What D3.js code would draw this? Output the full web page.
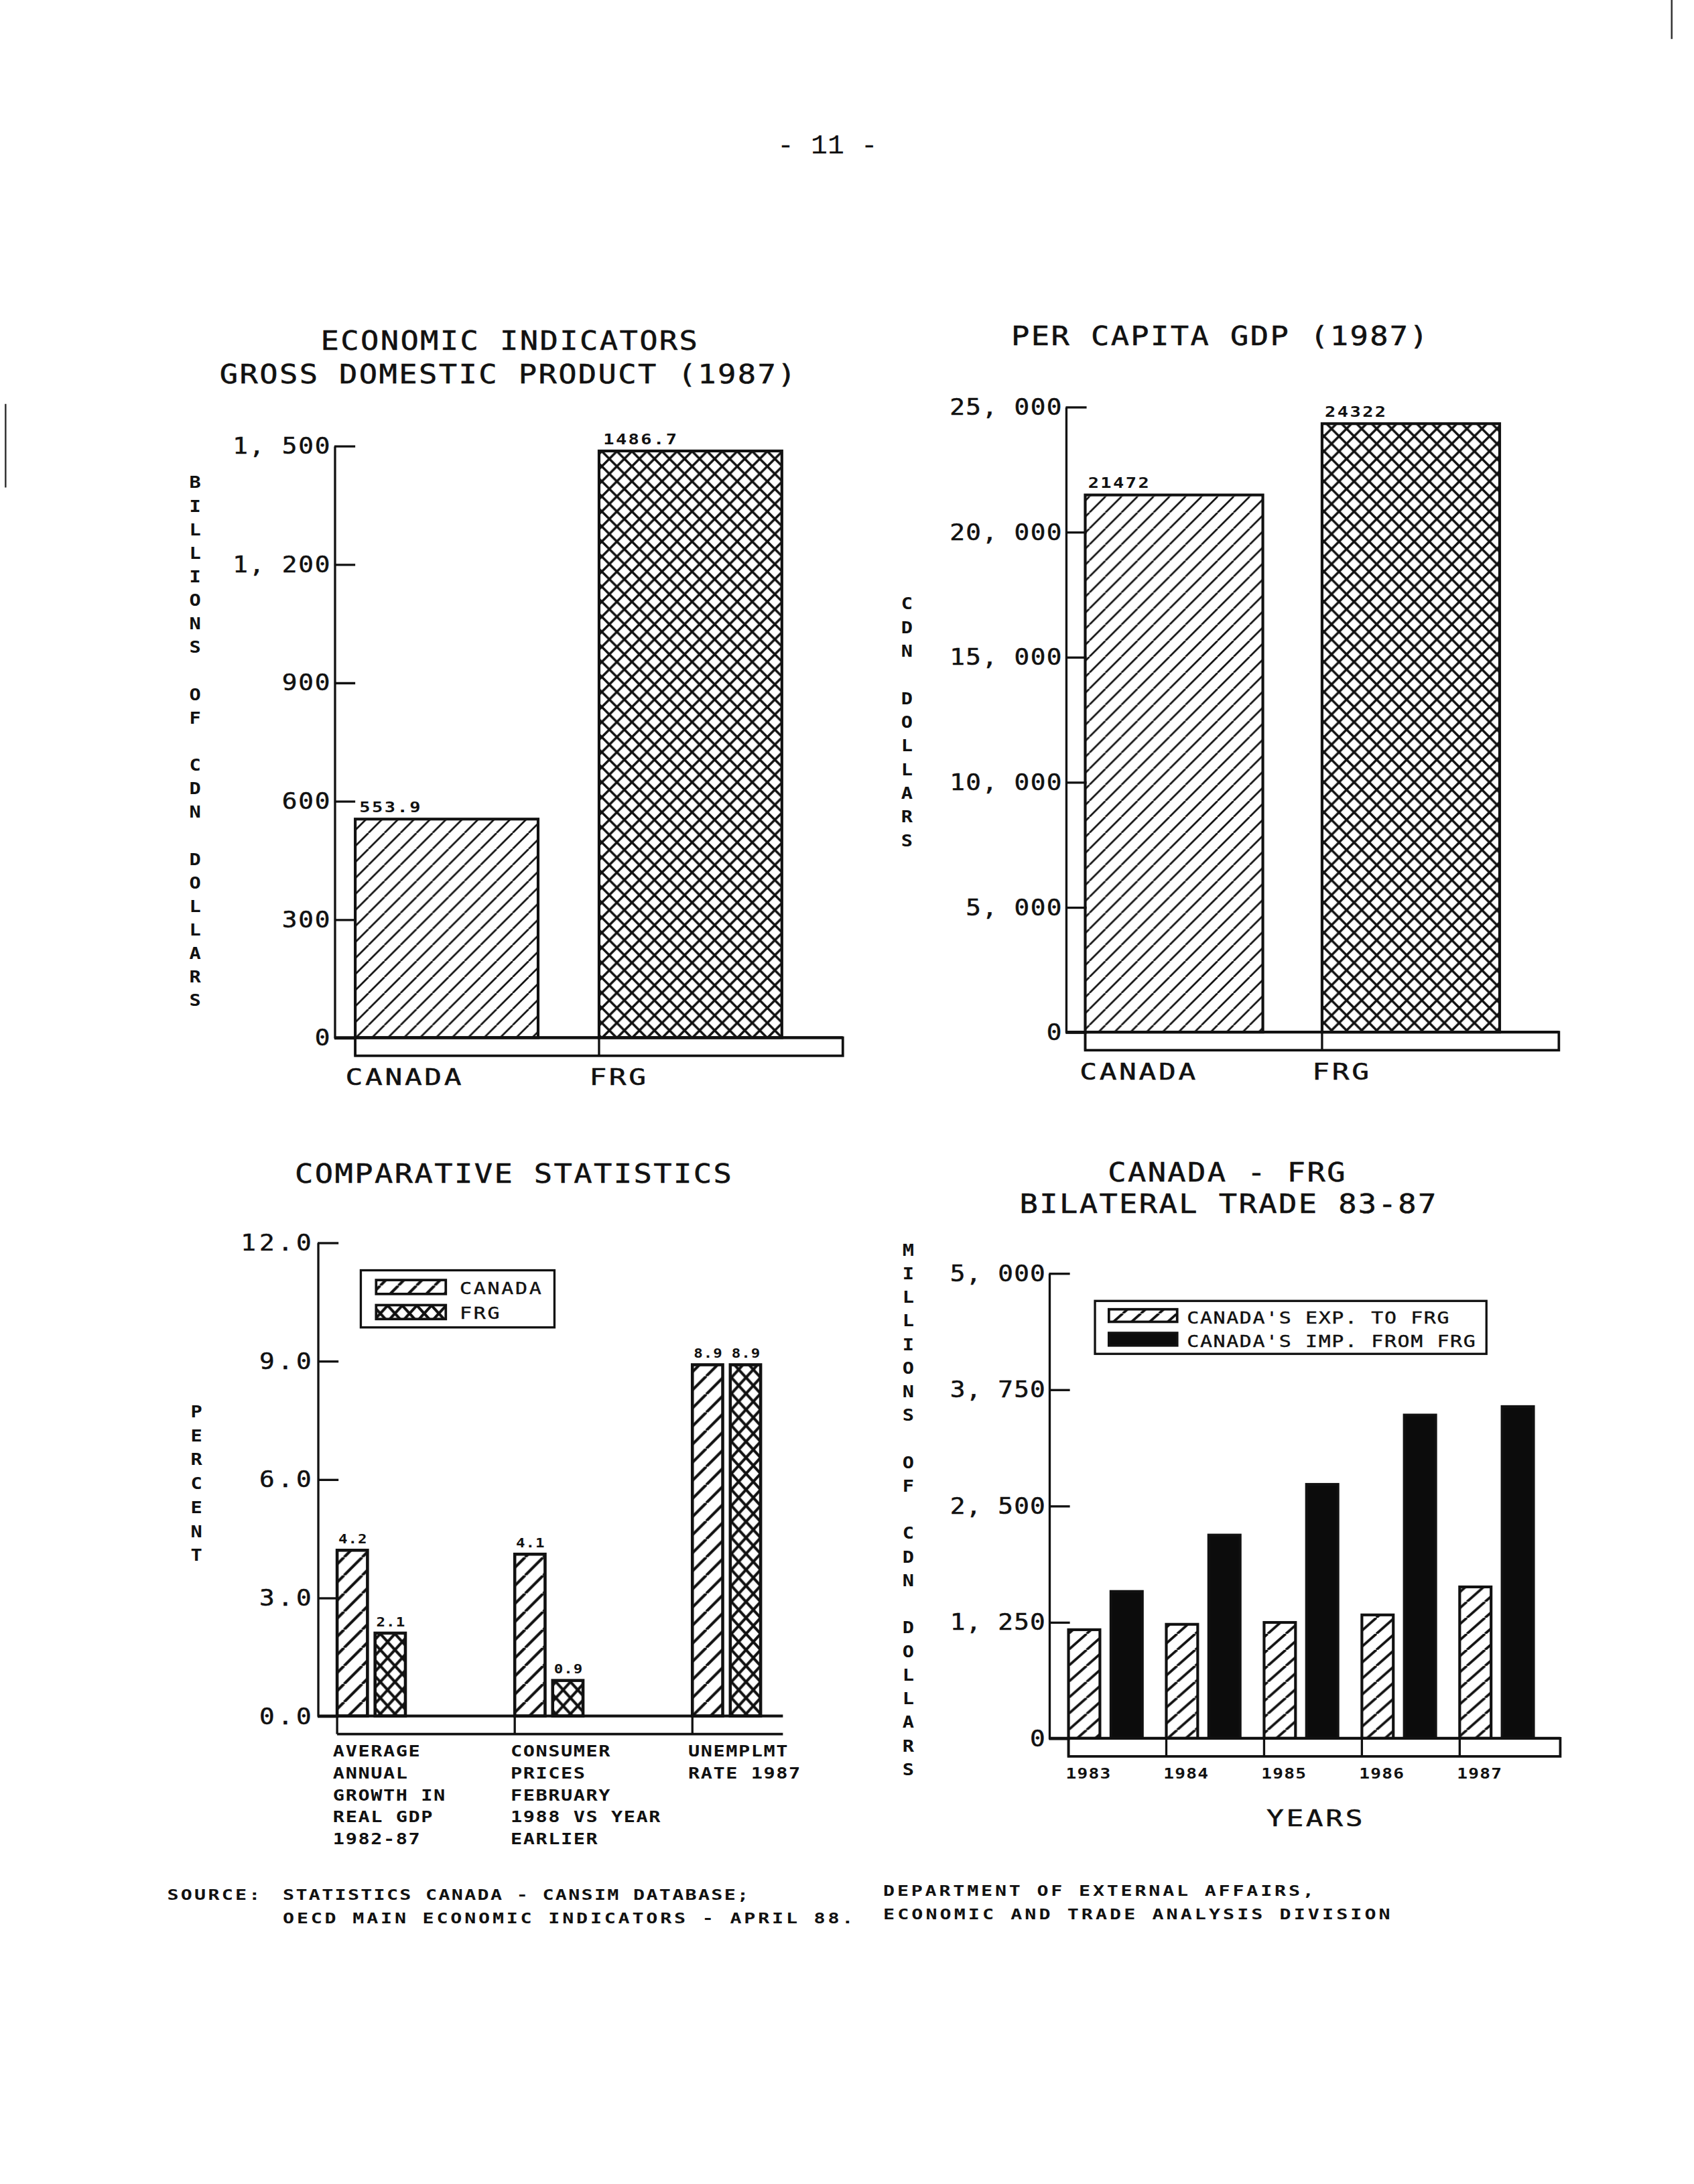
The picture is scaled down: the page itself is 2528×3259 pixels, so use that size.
<!DOCTYPE html>
<html><head><meta charset="utf-8">
<script src="https://cdn.jsdelivr.net/npm/d3@7"></script>
<style>
html,body{margin:0;padding:0;background:#fff;}
svg{display:block;}
</style></head><body>
<svg id="page" width="2528" height="3259" viewBox="0 0 1216 1568" preserveAspectRatio="none"></svg>
<script>
// ---------------- DATA ----------------
const gdpCategories = ["CANADA", "FRG"];
const gdpValues = [553.9, 1486.7];
const gdpValueLabels = ["553.9", "1486.7"];
const gdpTicks = [0, 300, 600, 900, 1200, 1500];

const pcCategories = ["CANADA", "FRG"];
const pcValues = [21472, 24322];
const pcValueLabels = ["21472", "24322"];
const pcTicks = [0, 5000, 10000, 15000, 20000, 25000];

const compCategories = ["GDP", "CPI", "UNEMP"];
const compCategoryLines = [
  ["AVERAGE", "ANNUAL", "GROWTH IN", "REAL GDP", "1982-87"],
  ["CONSUMER", "PRICES", "FEBRUARY", "1988 VS YEAR", "EARLIER"],
  ["UNEMPLMT", "RATE 1987"]
];
const compSeries = ["CANADA", "FRG"];
const compCanada = [4.2, 4.1, 8.9];
const compFRG = [2.1, 0.9, 8.9];
const compTicks = [0, 3, 6, 9, 12];

const tradeYears = ["1983", "1984", "1985", "1986", "1987"];
const tradeSeries = ["CANADA'S EXP. TO FRG", "CANADA'S IMP. FROM FRG"];
const tradeExports = [1167, 1225, 1245, 1326, 1627];
const tradeImports = [1578, 2184, 2729, 3474, 3565];
const tradeTicks = [0, 1250, 2500, 3750, 5000];

// ---------------- SETUP ----------------
const svg = d3.select("#page");
const F = "'DejaVu Sans Mono', 'Liberation Mono', monospace";
const INK = "#111";
svg.append("rect").attr("width", 1216).attr("height", 1568).attr("fill", "#fff");
const defs = svg.append("defs");

function linePattern(id, w, h, sw, dirs) {
  const p = defs.append("pattern").attr("id", id)
    .attr("patternUnits", "userSpaceOnUse").attr("width", w).attr("height", h);
  p.append("rect").attr("width", w).attr("height", h).attr("fill", "#fff");
  let d = "";
  for (const dx of [-w, 0, w]) {
    if (dirs.includes("/")) d += `M${dx},${h} L${dx + w},0 `;
    if (dirs.includes("\\")) d += `M${dx},0 L${dx + w},${h} `;
  }
  p.append("path").attr("d", d).attr("stroke", INK).attr("stroke-width", sw)
    .attr("fill", "none");
}
linePattern("hatchA", 11.5, 11.5, 1.3, "/");
linePattern("crossA", 10.8, 10.8, 1.7, "/\\");
linePattern("hatchB", 13, 13, 2.0, "/");
linePattern("crossB", 10.5, 11.5, 2.0, "/\\");
linePattern("hatchC", 13, 11.5, 1.8, "/");

// text drawn with horizontal stretch to mimic the wide plotter lettering
function text(g, s, x, y, o = {}) {
  const sx = o.sx || 1;
  return g.append("text").attr("x", 0).attr("y", 0)
    .attr("transform", `translate(${x},${y}) scale(${sx},1)`).text(s)
    .attr("font-family", o.family || F)
    .attr("font-size", o.size || 11)
    .attr("font-weight", o.weight || "normal")
    .attr("letter-spacing", o.ls || 0)
    .attr("text-anchor", o.anchor || "start")
    .attr("stroke", o.sw ? INK : null)
    .attr("stroke-width", o.sw || null)
    .attr("fill", INK);
}

const TITLE = { size: 19, sx: 1.15, ls: 1.0, anchor: "middle", sw: 0.25 };
const CAT = { size: 16.5, sx: 1.25, ls: 1.4, sw: 0.25 };
const SMALL = { size: 11, weight: "bold", sx: 1.25, ls: 0.6 };
const VAL = { size: 10, weight: "bold", sx: 1.3, ls: 0.9 };

function commaFmt(v) {
  return v === 0 ? "0" : d3.format(",")(v).replace(",", ", ");
}

function drawAxis(g, y, ticks, fmt, x, ls) {
  const a = d3.axisLeft(y).tickValues(ticks).tickSize(-15).tickSizeOuter(0)
    .tickPadding(2).tickFormat(fmt);
  const ag = g.append("g").attr("transform", `translate(${x},0)`).call(a);
  ag.select(".domain").attr("stroke", INK).attr("stroke-width", 1.6);
  ag.selectAll(".tick line").attr("stroke", INK).attr("stroke-width", 1.6);
  ag.selectAll(".tick text").attr("font-family", F).attr("font-size", 16.5)
    .attr("letter-spacing", ls).attr("fill", INK)
    .attr("stroke", INK).attr("stroke-width", 0.25)
    .attr("transform", "scale(1.1,1)");
  return ag;
}

function stackedLabel(g, s, x, yStart, step) {
  s.split("").forEach((c, i) => {
    if (c !== " ") text(g, c, x, yStart + i * step + 4.5, { size: 12, weight: "bold", sx: 1.15, anchor: "middle" });
  });
}

// ---------------- HEADER ----------------
text(svg, "- 11 -", 594, 110, { family: "'Liberation Mono', monospace", size: 20, anchor: "middle" });
svg.append("line").attr("x1", 4).attr("x2", 4).attr("y1", 290).attr("y2", 350).attr("stroke", "#333").attr("stroke-width", 1.2);
svg.append("line").attr("x1", 1200).attr("x2", 1200).attr("y1", 0).attr("y2", 28).attr("stroke", "#333").attr("stroke-width", 1.2);

// ---------------- CHART 1: GDP ----------------
{
  const g = svg.append("g");
  text(g, "ECONOMIC INDICATORS", 366, 251, TITLE);
  text(g, "GROSS DOMESTIC PRODUCT (1987)", 365, 275, TITLE);
  const x = d3.scaleBand().domain(gdpCategories).range([255, 605]);
  const y = d3.scaleLinear().domain([0, 1500]).range([745, 320]);
  const bw = x.step() * 0.75;
  g.selectAll("rect.bar").data(gdpValues).join("rect").attr("class", "bar")
    .attr("x", (d, i) => x(gdpCategories[i])).attr("width", bw)
    .attr("y", d => y(d)).attr("height", d => y(0) - y(d))
    .attr("fill", (d, i) => i === 0 ? "url(#hatchA)" : "url(#crossA)")
    .attr("stroke", INK).attr("stroke-width", 2);
  gdpValues.forEach((v, i) => text(g, gdpValueLabels[i], x(gdpCategories[i]) + 3, y(v) - 5, VAL));
  drawAxis(g, y, gdpTicks, commaFmt, 240, 0.8);
  const y0 = y(0);
  g.append("line").attr("x1", 240).attr("x2", x.range()[1]).attr("y1", y0).attr("y2", y0).attr("stroke", INK).attr("stroke-width", 2);
  g.append("rect").attr("x", x.range()[0]).attr("y", y0).attr("width", x.range()[1] - x.range()[0]).attr("height", 13)
    .attr("fill", "none").attr("stroke", INK).attr("stroke-width", 1.8);
  gdpCategories.forEach(c => {
    g.append("line").attr("x1", x(c)).attr("x2", x(c)).attr("y1", y0).attr("y2", y0 + 13).attr("stroke", INK).attr("stroke-width", 1.6);
    text(g, c, x(c) - 7, y0 + 34, CAT);
  });
  stackedLabel(g, "BILLIONS OF CDN DOLLARS", 140, 346, 16.9);
}

// ---------------- CHART 2: PER CAPITA ----------------
{
  const g = svg.append("g");
  text(g, "PER CAPITA GDP (1987)", 876, 248, TITLE);
  const x = d3.scaleBand().domain(pcCategories).range([779, 1119]);
  const y = d3.scaleLinear().domain([0, 25000]).range([741, 292]);
  const bw = x.step() * 0.75;
  g.selectAll("rect.bar").data(pcValues).join("rect").attr("class", "bar")
    .attr("x", (d, i) => x(pcCategories[i])).attr("width", bw)
    .attr("y", d => y(d)).attr("height", d => y(0) - y(d))
    .attr("fill", (d, i) => i === 0 ? "url(#hatchA)" : "url(#crossA)")
    .attr("stroke", INK).attr("stroke-width", 2);
  pcValues.forEach((v, i) => text(g, pcValueLabels[i], x(pcCategories[i]) + 2, y(v) - 5, VAL));
  drawAxis(g, y, pcTicks, commaFmt, 765, 0.6);
  const y0 = y(0);
  g.append("line").attr("x1", 765).attr("x2", x.range()[1]).attr("y1", y0).attr("y2", y0).attr("stroke", INK).attr("stroke-width", 2);
  g.append("rect").attr("x", x.range()[0]).attr("y", y0).attr("width", x.range()[1] - x.range()[0]).attr("height", 13)
    .attr("fill", "none").attr("stroke", INK).attr("stroke-width", 1.8);
  pcCategories.forEach((c, i) => {
    g.append("line").attr("x1", x(c)).attr("x2", x(c)).attr("y1", y0).attr("y2", y0 + 13).attr("stroke", INK).attr("stroke-width", 1.6);
    text(g, c, x(c) - (i === 0 ? 4 : 7), y0 + 34, CAT);
  });
  stackedLabel(g, "CDN DOLLARS", 651, 433, 17);
}

// ---------------- CHART 3: COMPARATIVE ----------------
{
  const g = svg.append("g");
  text(g, "COMPARATIVE STATISTICS", 369, 849, TITLE);
  const x = d3.scaleBand().domain(compCategories).range([242, 624.5]);
  const xi = d3.scaleBand().domain(compSeries).range([0, 49]).paddingInner(0.2);
  const y = d3.scaleLinear().domain([0, 12]).range([1232, 892]);
  const series = [compCanada, compFRG];
  const fills = ["url(#hatchB)", "url(#crossB)"];
  series.forEach((vals, si) => {
    g.selectAll(`rect.s${si}`).data(vals).join("rect").attr("class", `s${si}`)
      .attr("x", (d, i) => x(compCategories[i]) + xi(compSeries[si])).attr("width", xi.bandwidth())
      .attr("y", d => y(d)).attr("height", d => y(0) - y(d))
      .attr("fill", fills[si]).attr("stroke", INK).attr("stroke-width", 2.2);
    vals.forEach((v, i) => text(g, d3.format(".1f")(v), x(compCategories[i]) + xi(compSeries[si]) + xi.bandwidth() / 2 + 0.5, y(v) - 5,
      { size: 9, weight: "bold", sx: 1.2, ls: 0.4, anchor: "middle" }));
  });
  drawAxis(g, y, compTicks, d3.format(".1f"), 228, 2.1);
  const y0 = y(0);
  const xEnd = 562;
  g.append("line").attr("x1", 228).attr("x2", xEnd).attr("y1", y0).attr("y2", y0).attr("stroke", INK).attr("stroke-width", 2);
  g.append("line").attr("x1", x.range()[0]).attr("x2", xEnd).attr("y1", y0 + 13).attr("y2", y0 + 13).attr("stroke", INK).attr("stroke-width", 1.8);
  compCategories.forEach((c, i) => {
    g.append("line").attr("x1", x(c)).attr("x2", x(c)).attr("y1", y0).attr("y2", y0 + 13).attr("stroke", INK).attr("stroke-width", 1.6);
    compCategoryLines[i].forEach((ln, j) => text(g, ln, x(c) - 3, y0 + 29 + j * 15.8, SMALL));
  });
  // legend
  const lg = g.append("g");
  lg.append("rect").attr("x", 259).attr("y", 912).attr("width", 139).attr("height", 41)
    .attr("fill", "#fff").attr("stroke", INK).attr("stroke-width", 1.6);
  compSeries.forEach((s, i) => {
    lg.append("rect").attr("x", 270).attr("y", 919 + i * 18).attr("width", 50).attr("height", 10)
      .attr("fill", fills[i]).attr("stroke", INK).attr("stroke-width", 1.8);
    text(lg, s, 330, 929 + i * 18, { size: 12, sx: 1.2, ls: 1.1, sw: 0.2 });
  });
  stackedLabel(g, "PERCENT", 141, 1013, 17.2);
}

// ---------------- CHART 4: BILATERAL TRADE ----------------
{
  const g = svg.append("g");
  text(g, "CANADA - FRG", 881, 848, TITLE);
  text(g, "BILATERAL TRADE 83-87", 882, 871, TITLE);
  const x = d3.scaleBand().domain(tradeYears).range([767, 1118]);
  const xi = d3.scaleBand().domain(tradeSeries).range([0, 53]).paddingInner(0.26);
  const y = d3.scaleLinear().domain([0, 5000]).range([1248, 914]);
  const series = [tradeExports, tradeImports];
  const fills = ["url(#hatchC)", "#0c0c0c"];
  series.forEach((vals, si) => {
    g.selectAll(`rect.t${si}`).data(vals).join("rect").attr("class", `t${si}`)
      .attr("x", (d, i) => x(tradeYears[i]) + xi(tradeSeries[si])).attr("width", xi.bandwidth())
      .attr("y", d => y(d)).attr("height", d => y(0) - y(d))
      .attr("fill", fills[si]).attr("stroke", INK).attr("stroke-width", 2);
  });
  drawAxis(g, y, tradeTicks, commaFmt, 753, 0.5);
  const y0 = y(0);
  const xEnd = 1120;
  g.append("line").attr("x1", 753).attr("x2", xEnd).attr("y1", y0).attr("y2", y0).attr("stroke", INK).attr("stroke-width", 2);
  g.append("rect").attr("x", x.range()[0]).attr("y", y0).attr("width", xEnd - x.range()[0]).attr("height", 13)
    .attr("fill", "none").attr("stroke", INK).attr("stroke-width", 1.8);
  tradeYears.forEach(c => {
    g.append("line").attr("x1", x(c)).attr("x2", x(c)).attr("y1", y0).attr("y2", y0 + 13).attr("stroke", INK).attr("stroke-width", 1.6);
    text(g, c, x(c) - 2, y0 + 29, { size: 10.5, weight: "bold", sx: 1.2, ls: 0.5 });
  });
  text(g, "YEARS", (x.range()[0] + xEnd) / 2 + 1, 1311, Object.assign({}, CAT, { anchor: "middle" }));
  // legend
  const lg = g.append("g");
  lg.append("rect").attr("x", 786).attr("y", 934).attr("width", 281).attr("height", 38)
    .attr("fill", "#fff").attr("stroke", INK).attr("stroke-width", 1.6);
  tradeSeries.forEach((s, i) => {
    lg.append("rect").attr("x", 796).attr("y", 940 + i * 17).attr("width", 49).attr("height", 9)
      .attr("fill", fills[i]).attr("stroke", INK).attr("stroke-width", 1.8);
    text(lg, s, 852, 950 + i * 17, { size: 12, sx: 1.2, ls: 0.65, sw: 0.2 });
  });
  stackedLabel(g, "MILLIONS OF CDN DOLLARS", 652, 897, 16.95);
}

// ---------------- SOURCE ----------------
{
  const g = svg.append("g");
  text(g, "SOURCE:", 120, 1364, { size: 10.5, weight: "bold", sx: 1.3, ls: 1.2 });
  text(g, "STATISTICS CANADA - CANSIM DATABASE;", 203, 1364, { size: 10.5, weight: "bold", sx: 1.3, ls: 0.85 });
  text(g, "OECD MAIN ECONOMIC INDICATORS - APRIL 88.", 203, 1381, { size: 10.5, weight: "bold", sx: 1.3, ls: 1.4 });
  text(g, "DEPARTMENT OF EXTERNAL AFFAIRS,", 634, 1361, { size: 10.5, weight: "bold", sx: 1.3, ls: 1.4 });
  text(g, "ECONOMIC AND TRADE ANALYSIS DIVISION", 634, 1378, { size: 10.5, weight: "bold", sx: 1.3, ls: 1.5 });
}
</script>
</body></html>
